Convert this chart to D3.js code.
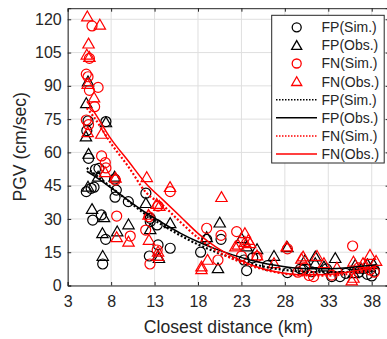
<!DOCTYPE html>
<html>
<head>
<meta charset="utf-8">
<script src="https://cdn.jsdelivr.net/npm/d3@7"></script>
<style>
  body { margin: 0; background: #fff; }
  text { font-family: "Liberation Sans", Arial, sans-serif; fill: #262626; }
</style>
</head>
<body>
<svg id="chart" width="387" height="339"></svg>
<script>
// scatter data [distance km, PGV cm/s]
const fpSim = [[5.34,74.2],[7.4,73.9],[5.2,69.8],[5.4,57.3],[6.2,52.4],[6.6,52.8],[5.14,42.3],[5.7,43.8],
  [6.03,44.3],[8.6,43],[8.45,39.8],[8.4,48],[9.98,37.8],[5.88,29.5],[6.87,31.8],[7.37,20.8],[7.03,9.7],
  [12,41.6],[12.5,30.3],[12.5,28.8],[13.3,27.3],[13.4,18.3],[12.4,13.3],[14.8,16.8],[18.3,15],[19,20.8],
  [20.65,20.8],[23.6,6.7],[23.3,11.5],[24.3,12.5],[28.3,5.8],[30.1,7],[31.1,6.2],[32.8,7.5],[33.4,4],
  [34.35,4],[35,5.5],[36.5,6],[38,4.3],[37.5,5],[38.3,6.5],[29.8,7.5],[26,9]];
const fpObs = [[5.34,91.9],[5.14,82.1],[7.4,73.5],[5.1,67.1],[5.4,59.3],[6.5,49],[5.34,44.5],[8.4,49],
  [5.8,34.4],[7.18,30.7],[7,23.5],[8.7,24.3],[10,27.5],[7.03,13.3],[12,37.1],[12.5,25.3],[14.8,28],
  [13.4,13.3],[13.5,12.3],[19,21.7],[20.5,28.3],[20.3,7.7],[23,21.3],[23.6,17.5],[24.8,16.3],[26.75,13.3],
  [28.3,17.2],[30.3,11.3],[31.5,13],[31.5,10],[33.8,12.3],[36.1,9.2],[35.9,5.5],[37.5,9.5],[38.2,9.5],
  [32.5,8.5],[36.8,7.5]];
const fnSim = [[5.8,117],[5.5,102.4],[5.14,95.3],[5.34,94.1],[6.5,89.3],[5.5,88],[6.1,80.6],[5.14,74.6],
  [5.4,72.5],[6.9,58.4],[7.33,55.4],[7.4,53],[8.5,47.5],[8.64,31.3],[10.2,22.3],[12.36,31],[11.98,25],
  [12.47,9.7],[13.4,35.8],[14.8,42.3],[13.3,16],[19,25.8],[20.65,22.6],[20.3,11.5],[22.45,24.3],[23,13.3],
  [24.8,13],[28.3,16.5],[30.3,8],[30.8,4.5],[31.3,4],[33.4,4.7],[35.8,17.8],[36.5,8],[37.8,7],[38.3,6],[29.5,6]];
const fnObs = [[5.26,121.2],[6.7,117.5],[5.4,109],[5.2,104],[5.5,103],[5.3,90.8],[6.03,84.7],[5.3,69],
  [6.87,68.3],[7.3,51],[8.5,48.5],[8.64,21.7],[10,19.7],[12.1,48.8],[13.25,36.7],[13.55,35.8],[14.78,44.3],
  [12.3,31.8],[12.36,20.5],[13.4,15.2],[13.4,13.3],[18.4,8.5],[18.4,7.3],[19.1,11.5],[20.7,39.8],[23.4,23.5],
  [22.3,17.5],[22.6,18.3],[23.4,19.6],[23.8,20.5],[24,19],[24.8,13.5],[26.75,10],[28.2,17.5],[29.9,12],
  [30.1,13],[31.7,13.3],[34,8],[35.9,10.7],[35.9,3.4],[35.7,2.2],[37.8,13.7],[37,10],[37.3,9],[38.5,11],[32.5,10]];

// fitted curves, sampled off the figure
const fitX     = [5.2, 6, 8, 10, 12, 14, 16, 18, 20, 22, 24, 26, 28, 30, 32, 34, 36, 38.5];
const fitFpSim = [53, 50.5, 44.3, 38, 32, 27, 22.5, 18.5, 15.2, 12.3, 10, 8.2, 7, 6.3, 6, 6, 6.2, 6.5];
const fitFpObs = [51.5, 49.5, 44, 38.3, 32.8, 28, 23.5, 19.7, 16.5, 13.8, 11.5, 9.7, 8.5, 7.7, 7.5, 7.7, 8.3, 9.3];
const fitFnSim = [80, 76, 64, 53.5, 42, 36, 28.5, 21.5, 16, 12, 9, 6.8, 5.3, 4.6, 4.4, 4.7, 5.6, 7.5];
const fitFnObs = [83, 78.5, 66, 56, 46, 38.5, 31, 23.5, 17.5, 13, 9.5, 7, 5.5, 4.8, 4.8, 5.3, 6.5, 8.7];

const xTicks = [3, 8, 13, 18, 23, 28, 33, 38];
const yTicks = [0, 15, 30, 45, 60, 75, 90, 105, 120];
const legendLabels = ['FP(Sim.)', 'FP(Obs.)', 'FN(Sim.)', 'FN(Obs.)', 'FP(Sim.)', 'FP(Obs.)', 'FN(Sim.)', 'FN(Obs.)'];

const svg = d3.select('#chart');
const pL = 67.7, pR = 389.1, pT = 8.2, pB = 285.5;

const x = d3.scaleLinear().domain([3, 40]).range([pL, pR]);
const y = d3.scaleLinear().domain([0, 125]).range([pB, pT]);

// grid
svg.append('g').selectAll('line').data(xTicks).enter().append('line')
  .attr('x1', d => x(d)).attr('x2', d => x(d)).attr('y1', pT).attr('y2', pB)
  .attr('stroke', '#dfdfdf').attr('stroke-width', 1);
svg.append('g').selectAll('line').data(yTicks).enter().append('line')
  .attr('y1', d => y(d)).attr('y2', d => y(d)).attr('x1', pL).attr('x2', pR)
  .attr('stroke', '#dfdfdf').attr('stroke-width', 1);

// axes (ticks inward, box on)
const tk = 3.5;
svg.append('g').attr('transform', `translate(0,${pB})`)
  .call(d3.axisBottom(x).tickValues(xTicks).tickSize(-tk).tickPadding(10))
  .call(g => g.selectAll('text').attr('font-size', 16));
svg.append('g').attr('transform', `translate(${pL},0)`)
  .call(d3.axisLeft(y).tickValues(yTicks).tickSize(-tk).tickPadding(6))
  .call(g => g.selectAll('text').attr('font-size', 16));
svg.append('g').attr('transform', `translate(0,${pT})`)
  .call(d3.axisTop(x).tickValues(xTicks).tickSize(-tk).tickFormat(''));
svg.append('g').attr('transform', `translate(${pR},0)`)
  .call(d3.axisRight(y).tickValues(yTicks).tickSize(-tk).tickFormat(''));
svg.selectAll('.domain, .tick line').attr('stroke', '#262626');
svg.selectAll('.tick text').attr('fill', '#262626').style('font-family', '"Liberation Sans", Arial, sans-serif');

// markers
const tri = d3.symbol().type(d3.symbolTriangle).size(56);
function circles(data, color) {
  svg.append('g').selectAll('circle').data(data).enter().append('circle')
    .attr('cx', d => x(d[0])).attr('cy', d => y(d[1])).attr('r', 5)
    .attr('fill', 'none').attr('stroke', color).attr('stroke-width', 1.2);
}
function triangles(data, color) {
  svg.append('g').selectAll('path').data(data).enter().append('path')
    .attr('d', tri).attr('transform', d => `translate(${x(d[0])},${y(d[1]) + 1})`)
    .attr('fill', 'none').attr('stroke', color).attr('stroke-width', 1.2);
}
circles(fpSim, '#000');
triangles(fpObs, '#000');
circles(fnSim, '#ff0000');
triangles(fnObs, '#ff0000');

// fit lines
const line = d3.line().x(d => x(d[0])).y(d => y(d[1])).curve(d3.curveMonotoneX);
function fit(vals, color, dash) {
  svg.append('path').datum(fitX.map((v, i) => [v, vals[i]]))
    .attr('d', line).attr('fill', 'none').attr('stroke', color)
    .attr('stroke-width', dash ? 2.2 : 1.5).attr('stroke-dasharray', dash ? '2,2' : null);
}
fit(fitFpSim, '#000', true);
fit(fitFpObs, '#000', false);
fit(fitFnSim, '#ff0000', true);
fit(fitFnObs, '#ff0000', false);

// axis labels
svg.append('text').attr('x', (pL + pR) / 2).attr('y', 333).attr('text-anchor', 'middle')
  .attr('font-size', 17.6).text('Closest distance (km)');
svg.append('text').attr('transform', `translate(26,${(pT + pB) / 2}) rotate(-90)`)
  .attr('text-anchor', 'middle').attr('font-size', 17.6).text('PGV (cm/sec)');

// legend
const lg = svg.append('g');
lg.append('rect').attr('x', 271.7).attr('y', 15.3).attr('width', 112.5).attr('height', 147.7)
  .attr('fill', '#fff').attr('stroke', '#262626').attr('stroke-width', 1);
const legendStyle = [
  { kind: 'circle', color: '#000' }, { kind: 'tri', color: '#000' },
  { kind: 'circle', color: '#ff0000' }, { kind: 'tri', color: '#ff0000' },
  { kind: 'line', color: '#000', dash: true }, { kind: 'line', color: '#000' },
  { kind: 'line', color: '#ff0000', dash: true }, { kind: 'line', color: '#ff0000' }
];
legendLabels.forEach((lab, i) => {
  const yy = 27.3 + i * 18.1;
  const s = legendStyle[i];
  if (s.kind === 'circle') {
    lg.append('circle').attr('cx', 296.7).attr('cy', yy).attr('r', 4.5)
      .attr('fill', 'none').attr('stroke', s.color).attr('stroke-width', 1.3);
  } else if (s.kind === 'tri') {
    lg.append('path').attr('d', d3.symbol().type(d3.symbolTriangle).size(44))
      .attr('transform', `translate(296.7,${yy + 1})`)
      .attr('fill', 'none').attr('stroke', s.color).attr('stroke-width', 1.3);
  } else {
    lg.append('line').attr('x1', 276).attr('x2', 317).attr('y1', yy).attr('y2', yy)
      .attr('stroke', s.color).attr('stroke-width', 1.5)
      .attr('stroke-dasharray', s.dash ? '1.5,1.5' : null);
  }
  lg.append('text').attr('x', 321.5).attr('y', yy).attr('dy', '0.35em')
    .attr('font-size', 14).text(lab);
});
</script>
</body>
</html>
